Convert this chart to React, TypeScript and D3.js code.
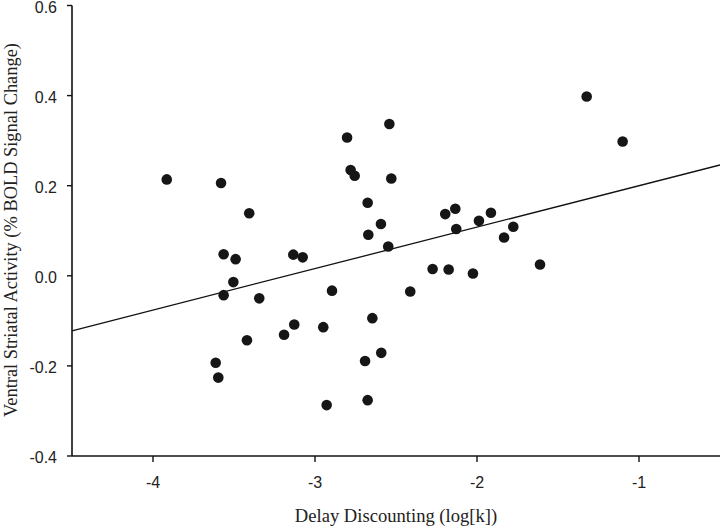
import React from "react";
import * as d3 from "d3";

// Delay discounting (log[k]) values
const discounting: number[] = [
  -3.915, -3.58, -3.406, -3.564, -3.49, -3.504, -3.564, -3.344, -3.42, -3.613, -3.597, -3.191,
  -2.541, -2.802, -2.78, -2.755, -2.529, -2.675, -2.593, -2.671, -2.548, -3.134, -3.076, -2.895,
  -2.412, -2.646, -3.128, -2.949, -2.591, -2.691, -2.675, -2.928,
  -2.134, -2.196, -1.914, -1.988, -2.128, -1.776, -1.833, -2.274, -2.175, -2.025, -1.611,
  -1.323, -1.101,
];
// Ventral striatal activity (% BOLD signal change)
const activity: number[] = [
  0.214, 0.206, 0.139, 0.048, 0.037, -0.014, -0.043, -0.05, -0.143, -0.193, -0.226, -0.131,
  0.337, 0.307, 0.235, 0.222, 0.216, 0.162, 0.115, 0.091, 0.065, 0.047, 0.041, -0.033,
  -0.035, -0.094, -0.108, -0.114, -0.171, -0.189, -0.276, -0.287,
  0.149, 0.137, 0.14, 0.122, 0.104, 0.109, 0.085, 0.015, 0.014, 0.005, 0.025,
  0.398, 0.298,
];
// Regression line endpoints
const fitX: number[] = [-4.5, -0.5];
const fitY: number[] = [-0.122, 0.246];

const xTicks: number[] = [-4, -3, -2, -1];
const yTicks: number[] = [-0.4, -0.2, 0.0, 0.2, 0.4, 0.6];
const xTitle = "Delay Discounting (log[k])";
const yTitle = "Ventral Striatal Activity (% BOLD Signal Change)";

const W = 720;
const H = 528;
const left = 72;
const right = 720;
const top = 5.5;
const bottom = 456;

export default function App() {
  const x = d3.scaleLinear().domain([-4.5, -0.5]).range([left, right]);
  const y = d3.scaleLinear().domain([-0.4, 0.6]).range([bottom, top]);
  const line = d3
    .line<number>()
    .x((_, i) => x(fitX[i]))
    .y((d) => y(d));
  const sans = "'Liberation Sans', Arial, sans-serif";
  const serif = "'Liberation Serif', 'Times New Roman', serif";
  return (
    <svg
      width={W}
      height={H}
      style={{ position: "absolute", left: 0, top: 0, background: "#fff" }}
    >
      {/* axes */}
      <line x1={left} x2={left} y1={top} y2={bottom} stroke="#111" strokeWidth={1.6} />
      <line x1={left} x2={right} y1={bottom} y2={bottom} stroke="#111" strokeWidth={1.6} />
      {yTicks.map((t) => (
        <g key={"y" + t}>
          <line x1={left - 5} x2={left} y1={y(t)} y2={y(t)} stroke="#111" strokeWidth={1.4} />
          <text
            x={57}
            y={y(t) + 1.5}
            dy="0.36em"
            textAnchor="end"
            fontFamily={sans}
            fontSize={16}
            fill="#222"
          >
            {t.toFixed(1)}
          </text>
        </g>
      ))}
      {xTicks.map((t) => (
        <g key={"x" + t}>
          <line x1={x(t)} x2={x(t)} y1={bottom} y2={bottom + 6} stroke="#111" strokeWidth={1.4} />
          <text
            x={x(t)}
            y={488}
            textAnchor="middle"
            fontFamily={sans}
            fontSize={16}
            fill="#222"
          >
            {String(t)}
          </text>
        </g>
      ))}
      <text
        x={396}
        y={522}
        textAnchor="middle"
        fontFamily={serif}
        fontSize={18.6}
        fill="#222"
      >
        {xTitle}
      </text>
      <text
        transform={`translate(16.5,230) rotate(-90)`}
        textAnchor="middle"
        fontFamily={serif}
        fontSize={18.4}
        fill="#222"
      >
        {yTitle}
      </text>
      {/* regression line */}
      <path d={line(fitY) || ""} fill="none" stroke="#111" strokeWidth={1.3} />
      {/* points */}
      {discounting.map((d, i) => (
        <circle key={i} cx={x(d)} cy={y(activity[i])} r={5.3} fill="#161616" />
      ))}
    </svg>
  );
}
